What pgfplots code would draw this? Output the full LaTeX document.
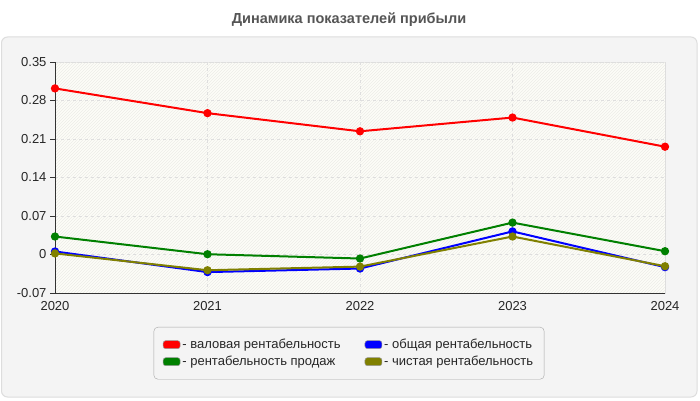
\documentclass[border=0pt]{standalone}
\usepackage{pgfplots}
\pgfplotsset{compat=1.18}
\usepackage{fontspec}
\setmainfont{Liberation Sans}
\usetikzlibrary{patterns}
\definecolor{panel}{HTML}{F4F4F4}
\definecolor{panelborder}{HTML}{DDDDDD}
\definecolor{plotbg}{HTML}{FDFDF8}
\definecolor{olivec}{HTML}{808000}
\definecolor{greenc}{HTML}{008000}
\definecolor{titlec}{HTML}{555555}
\definecolor{hatch}{HTML}{EDEDE8}
\begin{document}
\begin{tikzpicture}
\path[use as bounding box, fill=white] (0pt,0pt) rectangle (700pt,400pt);
\draw[panelborder, fill=panel, rounded corners=6pt, line width=1pt] (1.5pt,3pt) rectangle (697pt,363pt);
\node[font=\fontsize{14.5}{16}\selectfont\bfseries, text=titlec] at (349pt,380pt) {Динамика показателей прибыли};
\begin{axis}[
  at={(55pt,107pt)}, anchor=south west,
  scale only axis, width=610pt, height=231pt,
  xmin=2020, xmax=2024, ymin=-0.07, ymax=0.35,
  enlargelimits=false, clip=false,
  axis x line*=bottom, axis y line*=left,
  axis line style={-, draw=black!80, line width=0.8pt},
  axis background/.style={fill=plotbg, draw=panelborder, line width=0.8pt,
     postaction={pattern=north east lines, pattern color=hatch}},
  xtick={2020,2021,2022,2023,2024},
  xticklabels={2020,2021,2022,2023,2024},
  ytick={-0.07,0,0.07,0.14,0.21,0.28,0.35},
  yticklabels={-0.07,0,0.07,0.14,0.21,0.28,0.35},
  tick label style={font=\fontsize{13}{15}\selectfont, text=black!85},
  tick align=outside, major tick length=5pt,
  tick style={draw=black!80, line width=0.8pt},
  xtick style={draw=none},
  grid=major,
  major grid style={dashed, draw=black!13, line width=0.7pt},
  legend columns=2,
  legend cell align=left,
  legend style={at={(0.482,-0.147)}, anchor=north,
     fill=panel, draw=black!35, rounded corners=4pt,
     font=\fontsize{13}{15}\selectfont, text=black!85,
     inner xsep=9pt, inner ysep=10pt, row sep=2pt,
     /tikz/every even column/.append style={column sep=22pt}},
  legend image code/.code={\filldraw[#1, draw=black!40, line width=0.5pt, rounded corners=2.5pt] (0pt,-4pt) rectangle (17pt,4pt);},
  every axis plot/.append style={line width=2pt, mark=*, mark size=3.1pt},
]
\addplot[color=red] coordinates {(2020,0.302) (2021,0.257) (2022,0.224) (2023,0.249) (2024,0.196)};
\addlegendentry{- валовая рентабельность}
\addplot[color=blue] coordinates {(2020,0.0055) (2021,-0.032) (2022,-0.0255) (2023,0.042) (2024,-0.023)};
\addlegendentry{- общая рентабельность}
\addplot[color=greenc] coordinates {(2020,0.0327) (2021,0.0005) (2022,-0.0073) (2023,0.058) (2024,0.006)};
\addlegendentry{- рентабельность продаж}
\addplot[color=olivec] coordinates {(2020,0.002) (2021,-0.0286) (2022,-0.022) (2023,0.0327) (2024,-0.0213)};
\addlegendentry{- чистая рентабельность}
\end{axis}
\end{tikzpicture}
\end{document}
